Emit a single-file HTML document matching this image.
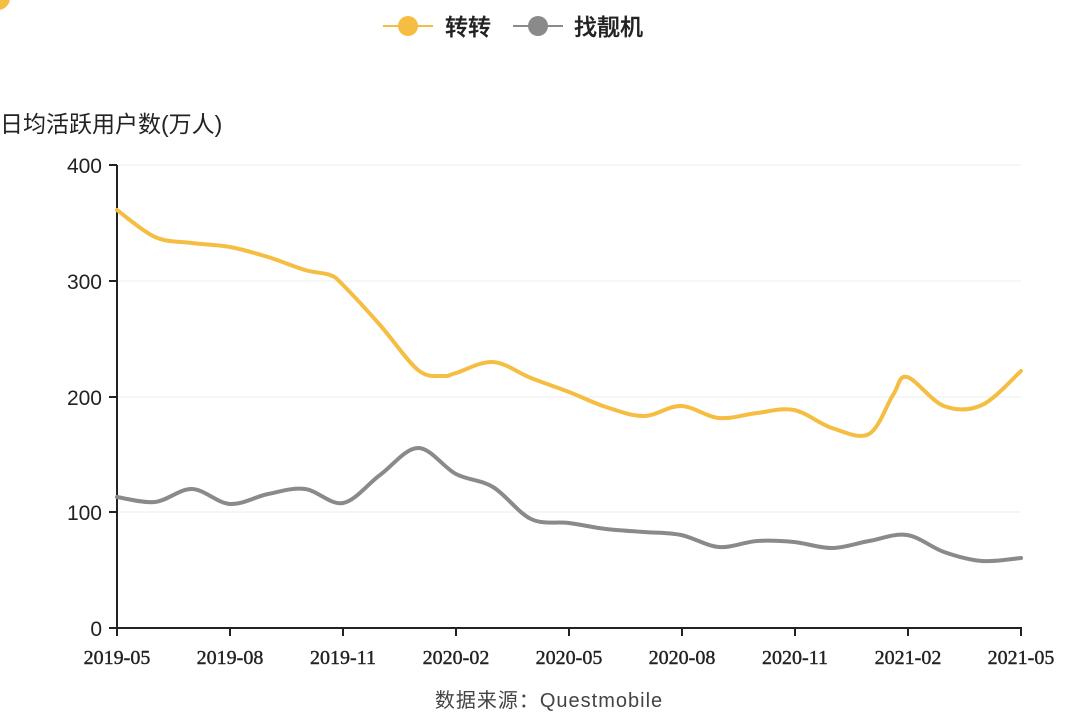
<!DOCTYPE html>
<html><head><meta charset="utf-8"><style>
html,body{margin:0;padding:0;background:#fff;}
svg text{font-family:"Liberation Sans","Noto Sans CJK SC",sans-serif;}
.xl{font-family:"Liberation Serif",serif;}
</style></head><body>
<svg width="1080" height="722" viewBox="0 0 1080 722" xmlns="http://www.w3.org/2000/svg">
<circle cx="-2" cy="-2" r="12" fill="#f5bd41"/>
<line x1="383" y1="26" x2="433" y2="26" stroke="#f5bd41" stroke-width="2"/>
<circle cx="408" cy="26" r="10" fill="#f5bd41"/>
<text x="445" y="35" font-size="23" fill="#222" font-weight="500" stroke="#222" stroke-width="0.3">转转</text>
<line x1="513" y1="26" x2="563" y2="26" stroke="#8a8a8a" stroke-width="2"/>
<circle cx="538" cy="26" r="10" fill="#8a8a8a"/>
<text x="574" y="35" font-size="23" fill="#222" font-weight="500" stroke="#222" stroke-width="0.3">找靓机</text>
<text x="0" y="132" font-size="23" fill="#222">日均活跃用户数(万人)</text>
<g stroke="#ececec" stroke-width="1">
<line x1="117" y1="165" x2="1021" y2="165"/><line x1="117" y1="281" x2="1021" y2="281"/>
<line x1="117" y1="397" x2="1021" y2="397"/><line x1="117" y1="512" x2="1021" y2="512"/>
</g>
<g stroke="#222" stroke-width="2" fill="none">
<line x1="117" y1="165" x2="117" y2="629"/><line x1="116" y1="628" x2="1022" y2="628"/>
<line x1="109" y1="165" x2="117" y2="165"/><line x1="109" y1="281" x2="117" y2="281"/>
<line x1="109" y1="397" x2="117" y2="397"/><line x1="109" y1="512" x2="117" y2="512"/>
<line x1="109" y1="628" x2="117" y2="628"/>
<line x1="117" y1="628" x2="117" y2="636"/><line x1="230" y1="628" x2="230" y2="636"/>
<line x1="343" y1="628" x2="343" y2="636"/><line x1="456" y1="628" x2="456" y2="636"/>
<line x1="569" y1="628" x2="569" y2="636"/><line x1="682" y1="628" x2="682" y2="636"/>
<line x1="795" y1="628" x2="795" y2="636"/><line x1="908" y1="628" x2="908" y2="636"/>
<line x1="1021" y1="628" x2="1021" y2="636"/>
</g>
<g font-size="21" fill="#222" text-anchor="end">
<text x="102" y="173">400</text><text x="102" y="289">300</text><text x="102" y="405">200</text>
<text x="102" y="520">100</text><text x="102" y="636">0</text>
</g>
<g font-size="20" fill="#222" text-anchor="middle" stroke="#222" stroke-width="0.4">
<text class="xl" x="117" y="664">2019-05</text>
<text class="xl" x="230" y="664">2019-08</text>
<text class="xl" x="343" y="664">2019-11</text>
<text class="xl" x="456" y="664">2020-02</text>
<text class="xl" x="569" y="664">2020-05</text>
<text class="xl" x="682" y="664">2020-08</text>
<text class="xl" x="795" y="664">2020-11</text>
<text class="xl" x="908" y="664">2021-02</text>
<text class="xl" x="1021" y="664">2021-05</text>
</g>
<text x="549" y="707" font-size="20" fill="#444" text-anchor="middle" letter-spacing="1">数据来源：Questmobile</text>
<path id="y" fill="none" stroke="#f5bd41" stroke-width="4" stroke-linecap="round" stroke-linejoin="round"/>
<path id="g" fill="none" stroke="#8a8a8a" stroke-width="4" stroke-linecap="round" stroke-linejoin="round"/>
</svg>
<script>
function cr(p){var d="M"+p[0][0]+","+p[0][1];for(var i=0;i<p.length-1;i++){var a=p[i-1]||p[i],b=p[i],c=p[i+1],e=p[i+2]||c;var t=6;d+=" C"+(b[0]+(c[0]-a[0])/t)+","+(b[1]+(c[1]-a[1])/t)+" "+(c[0]-(e[0]-b[0])/t)+","+(c[1]-(e[1]-b[1])/t)+" "+c[0]+","+c[1];}return d;}
var Y=[[117,210],[155,237],[192,243],[230,247],[268,257],[305,270],[330,275],[343,285],[380,325],[418,370],[443,376],[456,373],[493,362],[531,378],[569,392],[606,407],[644,416],[681,406],[719,418],[757,413],[794,410],[832,428],[869,434],[893,395],[907,377],[944,406],[982,405],[1021,371]];
var G=[[117,497],[155,502],[192,489],[230,504],[268,494],[305,489],[343,503],[380,475],[418,448],[456,474],[493,487],[531,519],[569,523],[606,529],[644,532],[681,535],[719,547],[757,541],[794,542],[832,548],[869,541],[907,535],[944,552],[982,561],[1021,558]];
document.getElementById("y").setAttribute("d",cr(Y));
document.getElementById("g").setAttribute("d",cr(G));
</script>
</body></html>
